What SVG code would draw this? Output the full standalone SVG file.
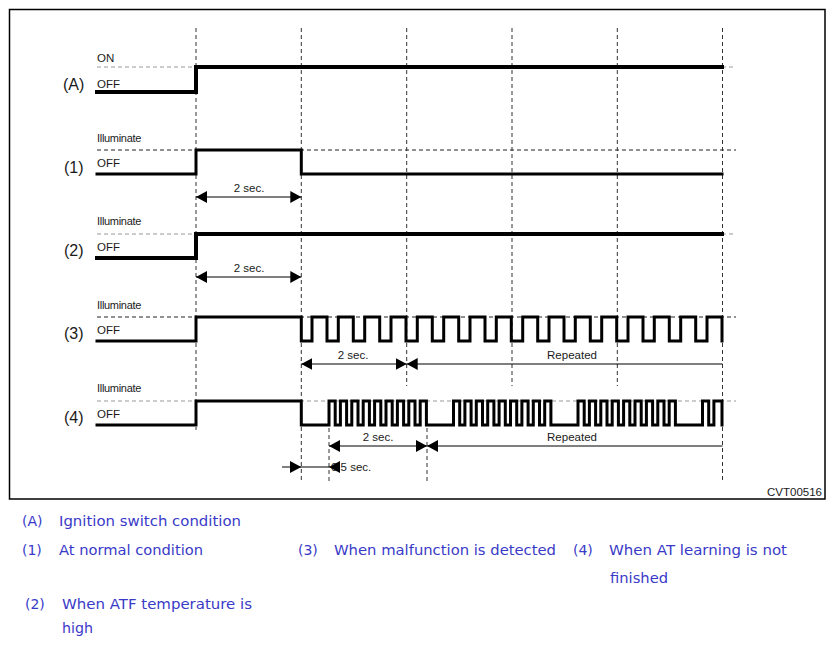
<svg xmlns="http://www.w3.org/2000/svg" width="835" height="646" viewBox="0 0 835 646">
<style>
  .lbl{font-family:"Liberation Sans",Arial,sans-serif;fill:#1a1a1a}
  .big{font-size:16px}
  .sm{font-size:11.5px}
  .ill{font-size:11px;letter-spacing:-0.3px}
  .leg{font-family:"DejaVu Sans","Liberation Sans",sans-serif;font-size:14px;fill:#3a3ac8}
  .vd{stroke:#333;stroke-width:1;stroke-dasharray:4,3;fill:none}
  .hd{stroke:#222;stroke-width:1;stroke-dasharray:4,3;fill:none}
  .hg{stroke:#999;stroke-width:1;stroke-dasharray:4,3;fill:none}
  .sig{fill:none;stroke:#000;stroke-linejoin:miter;stroke-linecap:square}
  .dim{stroke:#000;stroke-width:1.2;fill:none}
  .ah{fill:#000}
</style>
<defs>
  <marker id="arr" markerUnits="userSpaceOnUse" markerWidth="12" markerHeight="12" refX="11" refY="6" orient="auto-start-reverse">
    <path d="M0,0 L11,6 L0,12 z" fill="#000"/>
  </marker>
</defs>
<rect x="0" y="0" width="835" height="646" fill="#fff"/>
<rect x="9.5" y="9.5" width="815.5" height="489.5" fill="none" stroke="#000" stroke-width="1.5"/>

<g id="gridlines">
  <line class="vd" x1="196" y1="28" x2="196" y2="430"/>
  <line class="vd" x1="301.3" y1="28" x2="301.3" y2="482"/>
  <line class="vd" x1="406.7" y1="28" x2="406.7" y2="386"/>
  <line class="vd" x1="512" y1="28" x2="512" y2="386"/>
  <line class="vd" x1="617.3" y1="28" x2="617.3" y2="386"/>
  <line class="vd" x1="722.5" y1="28" x2="722.5" y2="482"/>
  <line class="vd" x1="329" y1="428" x2="329" y2="482"/>
  <line class="vd" x1="427" y1="428" x2="427" y2="482"/>
</g>

<g id="sigA">
  <line class="hg" x1="97" y1="67" x2="196" y2="67"/>
  <line class="hg" x1="722" y1="67" x2="736" y2="67"/>
  <text class="lbl sm" x="97" y="62">ON</text>
  <text class="lbl sm" x="97" y="88">OFF</text>
  <text class="lbl big" x="63" y="90">(A)</text>
  <path class="sig" stroke-width="4" d="M97,92 H196 V67 H722"/>
</g>

<g id="sig1">
  <line class="hd" x1="97" y1="150" x2="736" y2="150"/>
  <text class="lbl ill" x="97" y="142">Illuminate</text>
  <text class="lbl sm" x="97" y="167">OFF</text>
  <text class="lbl big" x="64" y="173">(1)</text>
  <path class="sig" stroke-width="3" d="M97,174 H196 V150 H301.3 V174 H722"/>
</g>

<g id="sig2">
  <line class="hg" x1="97" y1="234" x2="196" y2="234"/>
  <line class="hg" x1="722" y1="234" x2="736" y2="234"/>
  <text class="lbl ill" x="97" y="225">Illuminate</text>
  <text class="lbl sm" x="97" y="251">OFF</text>
  <text class="lbl big" x="64" y="256">(2)</text>
  <path class="sig" stroke-width="4" d="M97,258 H196 V234 H722"/>
</g>

<g id="sig3">
  <line class="hd" x1="97" y1="317" x2="736" y2="317"/>
  <text class="lbl ill" x="97" y="309">Illuminate</text>
  <text class="lbl sm" x="97" y="334">OFF</text>
  <text class="lbl big" x="64" y="339">(3)</text>
  <path class="sig" stroke-width="3" d="M97,341 H196 V317 H301.3 V341 H312 V317 H327 V341 H338.3 V317 H353.3 V341 H364.7 V317 H379.7 V341 H391 V317 H406 V341 H417.3 V317 H432.3 V341 H443.7 V317 H458.7 V341 H470 V317 H485 V341 H496.3 V317 H511.3 V341 H522.7 V317 H537.7 V341 H549 V317 H564 V341 H575.3 V317 H590.3 V341 H601.7 V317 H616.7 V341 H628 V317 H643 V341 H654.3 V317 H669.3 V341 H680.7 V317 H695.7 V341 H707 V317 H722 V341"/>
</g>

<g id="sig4">
  <line class="hg" x1="97" y1="401" x2="736" y2="401"/>
  <text class="lbl ill" x="97" y="392">Illuminate</text>
  <text class="lbl sm" x="97" y="418">OFF</text>
  <text class="lbl big" x="64" y="423">(4)</text>
  <path class="sig" stroke-width="3" d="M97,425 H196 V401 H301.3 V425 H329
    V401 H335.2 V425 H340.4 V401 H346.6 V425 H351.8 V401 H358 V425 H363.2 V401 H369.4 V425 H374.6 V401 H380.8 V425 H386 V401 H392.2 V425 H397.4 V401 H403.6 V425 H408.8 V401 H415 V425 H420.2 V401 H426.4 V425 H453.5
    V401 H459.7 V425 H464.9 V401 H471.1 V425 H476.3 V401 H482.5 V425 H487.7 V401 H493.9 V425 H499.1 V401 H505.3 V425 H510.5 V401 H516.7 V425 H521.9 V401 H528.1 V425 H533.3 V401 H539.5 V425 H544.7 V401 H550.9 V425 H578
    V401 H584.2 V425 H589.4 V401 H595.6 V425 H600.8 V401 H607 V425 H612.2 V401 H618.4 V425 H623.6 V401 H629.8 V425 H635 V401 H641.2 V425 H646.4 V401 H652.6 V425 H657.8 V401 H664 V425 H669.2 V401 H675.4 V425 H702.5
    V401 H708.7 V425 H713.9 V401 H722 V425"/>
</g>

<g id="connectors">
  <line class="dim" x1="196" y1="197" x2="301.3" y2="197" marker-start="url(#arr)" marker-end="url(#arr)"/>
  <line class="dim" x1="196" y1="277" x2="301.3" y2="277" marker-start="url(#arr)" marker-end="url(#arr)"/>
  <line class="dim" x1="301.3" y1="364" x2="406.7" y2="364" marker-start="url(#arr)" marker-end="url(#arr)"/>
  <line class="dim" x1="406.7" y1="364" x2="722.5" y2="364" marker-start="url(#arr)"/>
  <line class="dim" x1="329" y1="446" x2="427" y2="446" marker-start="url(#arr)" marker-end="url(#arr)"/>
  <line class="dim" x1="427" y1="446" x2="722.5" y2="446" marker-start="url(#arr)"/>
  <text class="lbl sm" x="331" y="471">0.5 sec.</text>
  <line class="dim" x1="282" y1="467" x2="340" y2="467"/>
  <polygon class="ah" points="290,461 301.3,467 290,473"/>
  <polygon class="ah" points="340,461 329,467 340,473"/>
</g>

<g id="dimlabels">
  <text class="lbl sm" x="249" y="192" text-anchor="middle">2 sec.</text>
  <text class="lbl sm" x="249" y="272" text-anchor="middle">2 sec.</text>
  <text class="lbl sm" x="353" y="359" text-anchor="middle">2 sec.</text>
  <text class="lbl sm" x="572" y="359" text-anchor="middle">Repeated</text>
  <text class="lbl sm" x="378" y="441" text-anchor="middle">2 sec.</text>
  <text class="lbl sm" x="572" y="441" text-anchor="middle">Repeated</text>
  <text class="lbl" font-size="11.5" x="822" y="496" text-anchor="end">CVT00516</text>
</g>

<g id="legend">
  <text class="leg" x="22" y="526">(A)</text>
  <text class="leg" x="59" y="526" textLength="182" lengthAdjust="spacingAndGlyphs">Ignition switch condition</text>
  <text class="leg" x="22" y="555">(1)</text>
  <text class="leg" x="59" y="555" textLength="144" lengthAdjust="spacingAndGlyphs">At normal condition</text>
  <text class="leg" x="298" y="555">(3)</text>
  <text class="leg" x="334" y="555" textLength="222" lengthAdjust="spacingAndGlyphs">When malfunction is detected</text>
  <text class="leg" x="573" y="555">(4)</text>
  <text class="leg" x="609" y="555" textLength="178" lengthAdjust="spacingAndGlyphs">When AT learning is not</text>
  <text class="leg" x="610" y="583" textLength="58" lengthAdjust="spacingAndGlyphs">finished</text>
  <text class="leg" x="25" y="609">(2)</text>
  <text class="leg" x="62" y="609" textLength="190" lengthAdjust="spacingAndGlyphs">When ATF temperature is</text>
  <text class="leg" x="62" y="633" textLength="31" lengthAdjust="spacingAndGlyphs">high</text>
</g>
</svg>
